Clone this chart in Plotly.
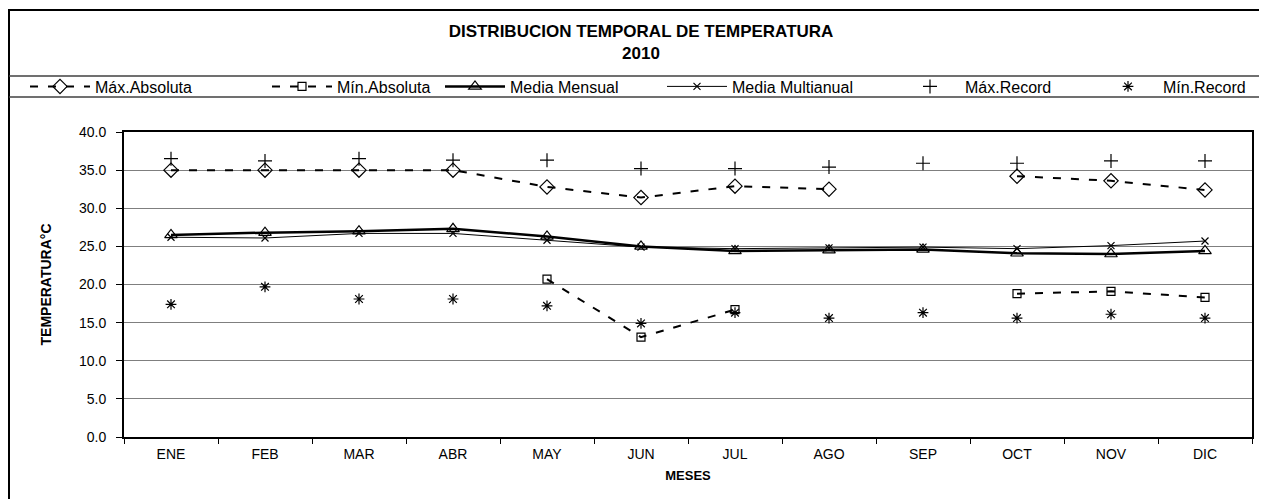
import plotly.graph_objects as go

meses = ["ENE", "FEB", "MAR", "ABR", "MAY", "JUN", "JUL", "AGO", "SEP", "OCT", "NOV", "DIC"]
max_absoluta = [35.0, 35.0, 35.0, 35.0, 32.8, 31.4, 32.9, 32.5, None, 34.2, 33.6, 32.4]
min_absoluta = [None, None, None, None, 20.7, 13.1, 16.7, None, None, 18.8, 19.1, 18.3]
media_mensual = [26.5, 26.8, 27.0, 27.3, 26.3, 25.0, 24.4, 24.5, 24.6, 24.1, 24.0, 24.4]
media_multianual = [26.2, 26.1, 26.7, 26.7, 25.8, 24.9, 24.7, 24.8, 24.9, 24.7, 25.1, 25.7]
max_record = [36.5, 36.2, 36.5, 36.3, 36.3, 35.2, 35.2, 35.4, 35.9, 35.9, 36.2, 36.2]
min_record = [17.4, 19.7, 18.1, 18.1, 17.2, 14.9, 16.3, 15.6, 16.3, 15.6, 16.1, 15.6]

FONT = "Liberation Sans, Arial, sans-serif"
OFF = 8  # page body margin
W, H = 1267 - OFF, 499 - OFF
L, R, T, B = 124 - OFF, 15, 132 - OFF, 62
PW, PH = W - L - R, H - T - B


def px_x(p):
    # page pixel -> paper coordinate
    return (p - OFF - L) / PW


def px_y(p):
    return (H - B - (p - OFF)) / PH


fig = go.Figure()

fig.add_trace(go.Scatter(
    x=meses, y=max_absoluta, name="Máx.Absoluta", mode="lines+markers",
    line=dict(color="black", width=2, dash="8px,10px"),
    marker=dict(symbol="diamond-open", size=11, color="black", line=dict(width=1.2, color="black")),
    connectgaps=False, legend="legend"))
fig.add_trace(go.Scatter(
    x=meses, y=min_absoluta, name="Mín.Absoluta", mode="lines+markers",
    line=dict(color="black", width=2, dash="8px,10px"),
    marker=dict(symbol="square-open", size=8, color="black", line=dict(width=1.2, color="black")),
    connectgaps=False, legend="legend2"))
fig.add_trace(go.Scatter(
    x=meses, y=media_mensual, name="Media Mensual", mode="lines+markers",
    line=dict(color="black", width=2.5),
    marker=dict(symbol="triangle-up-open", size=11, color="black", line=dict(width=1.2, color="black")),
    legend="legend3"))
fig.add_trace(go.Scatter(
    x=meses, y=media_multianual, name="Media Multianual", mode="lines+markers",
    line=dict(color="black", width=1),
    marker=dict(symbol="x-thin", size=7, color="black", line=dict(width=1.2, color="black")),
    legend="legend4"))
fig.add_trace(go.Scatter(
    x=meses, y=max_record, name="Máx.Record", mode="markers",
    marker=dict(symbol="cross-thin", size=10, color="black", line=dict(width=1.2, color="black")),
    legend="legend5"))
fig.add_trace(go.Scatter(
    x=meses, y=min_record, name="Mín.Record", mode="markers",
    marker=dict(symbol="asterisk", size=9, color="black", line=dict(width=1.2, color="black")),
    legend="legend6"))

ITEMW = 60
leg_y = px_y(86.5)
text_starts = [95, 337, 510, 732, 965, 1163]
leg_common = dict(orientation="h", yanchor="middle", xanchor="left", y=leg_y,
                  bgcolor="rgba(0,0,0,0)", borderwidth=0, itemwidth=ITEMW,
                  font=dict(family=FONT, size=16, color="black"))
legends = {}
for i, s in enumerate(text_starts):
    key = "legend" if i == 0 else f"legend{i + 1}"
    legends[key] = dict(leg_common, x=px_x(s - (ITEMW + 10)))

fx0, fx1 = px_x(OFF + 1), px_x(1290)
shapes = [
    dict(type="rect", xref="paper", yref="paper", x0=fx0, x1=fx1, y0=px_y(520), y1=px_y(10),
         line=dict(color="black", width=2), layer="below"),
    dict(type="line", xref="paper", yref="paper", x0=fx0, x1=fx1, y0=px_y(76), y1=px_y(76),
         line=dict(color="#404040", width=1.5)),
    dict(type="line", xref="paper", yref="paper", x0=fx0, x1=fx1, y0=px_y(97), y1=px_y(97),
         line=dict(color="#404040", width=1.5)),
]

fig.update_layout(
    width=W, height=H,
    margin=dict(l=L, r=R, t=T, b=B, autoexpand=False),
    paper_bgcolor="white", plot_bgcolor="white",
    font=dict(family=FONT, color="black"),
    title=dict(text="<b>DISTRIBUCION TEMPORAL DE TEMPERATURA<br>2010</b>",
               x=633 / W, xanchor="center", xref="container",
               y=1 - 29 / H, yanchor="top", yref="container",
               font=dict(family=FONT, size=17, color="black")),
    showlegend=True,
    shapes=shapes,
    **legends,
)

fig.update_xaxes(
    type="category", range=[-0.5, 11.5], showgrid=False,
    showline=True, linecolor="black", linewidth=1.5, mirror=True,
    ticks="outside", tickson="boundaries", ticklen=5, tickcolor="black", tickwidth=1,
    ticklabelstandoff=3,
    tickfont=dict(family=FONT, size=14, color="black"),
    title=dict(text="<b>MESES</b>", font=dict(family=FONT, size=13, color="black"), standoff=10),
    automargin=False,
)
fig.update_yaxes(
    range=[0, 40], dtick=5, tickformat=".1f", showgrid=True, gridcolor="#7f7f7f", gridwidth=1,
    showline=True, linecolor="black", linewidth=2, mirror=True,
    ticks="outside", ticklen=6, tickcolor="black", tickwidth=1,
    ticklabelstandoff=7,
    tickfont=dict(family=FONT, size=14, color="black"),
    title=dict(text="<b>TEMPERATURA°C</b>", font=dict(family=FONT, size=14, color="black"), standoff=24),
    zeroline=False, automargin=False,
)

fig.write_html("out.html")
